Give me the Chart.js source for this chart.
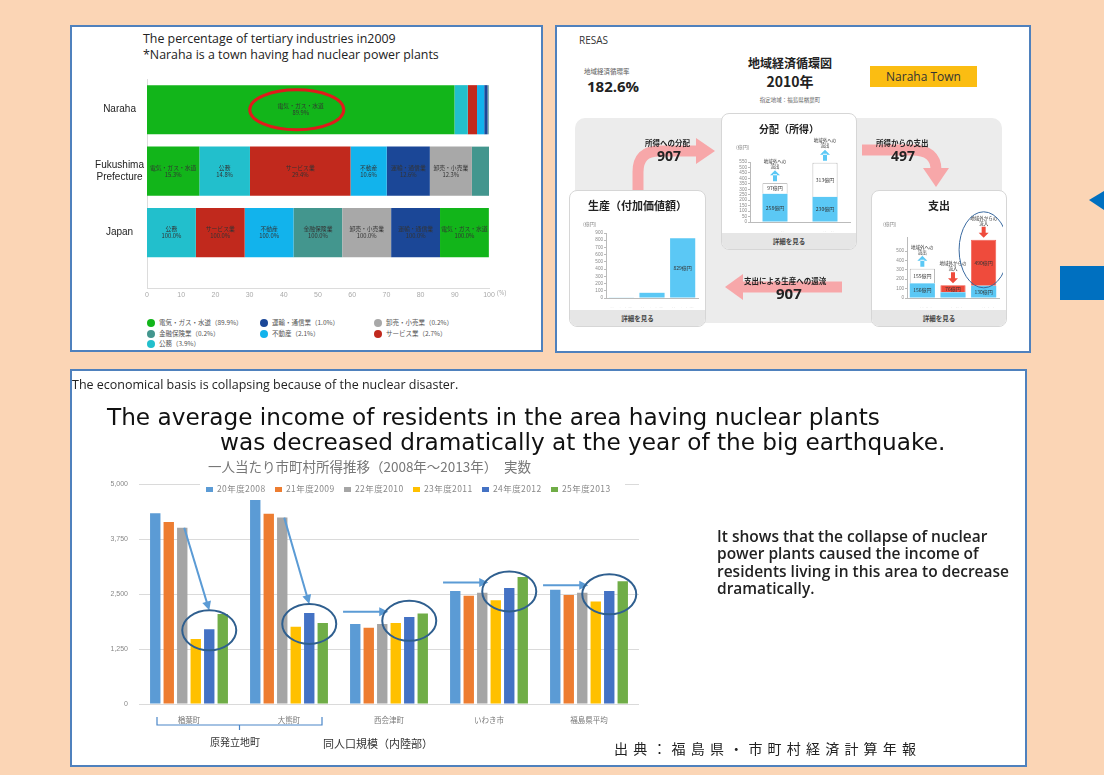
<!DOCTYPE html>
<html>
<head>
<meta charset="utf-8">
<script src="https://cdn.jsdelivr.net/npm/chart.js@4.4.1/dist/chart.umd.min.js"></script>
<style>
html, body { margin: 0; padding: 0; }
body { width: 1104px; height: 775px; background: #fbd5b5; position: relative; overflow: hidden;
       font-family: "Open Sans", "Noto Sans CJK JP", sans-serif; color: #222; }
.a { position: absolute; white-space: nowrap; }
.jp { font-family: "Noto Sans CJK JP", sans-serif; }
.panel { position: absolute; background: #fff; border: 2px solid #4f81bd; box-sizing: border-box; }
.card { position: absolute; background: #fff; border: 1px solid #d6d6d6; border-radius: 8px; box-sizing: border-box; overflow: hidden; }
.card .ttl { position: absolute; left: 0; right: 0; text-align: center; font-weight: bold; font-family: "Noto Sans CJK JP", sans-serif; }
.card .foot { position: absolute; left: 0; right: 0; bottom: 0; height: 16px; background: #e6e6e6; text-align: center;
              font: bold 6.5px/16px "Noto Sans CJK JP", sans-serif; color: #444; }
.box { position: absolute; }
.lg { position: absolute; font: 6.5px "Noto Sans CJK JP", sans-serif; color: #555; white-space: nowrap; }
.lg i { display: inline-block; width: 8px; height: 8px; border-radius: 50%; vertical-align: -2px; margin-right: 4px; }
.ilg { position: absolute; font: 8.5px "Noto Sans CJK JP", sans-serif; color: #888; white-space: nowrap; line-height: 8px; letter-spacing: 0.4px; }
.ilg i { display: inline-block; width: 7px; height: 5px; vertical-align: 0; margin-right: 4px; }
</style>
</head>
<body>

<div class="panel" style="left:70px; top:25px; width:473px; height:327px;"></div>
<div class="panel" style="left:555px; top:25px; width:476px; height:328px;"></div>
<div class="panel" style="left:70px; top:369px; width:957px; height:398px;"></div>

<!-- top left: tertiary industries -->
<div class="a" style="left:143px; top:31px; font-size:12.4px; line-height:16px; color:#222;">The percentage of tertiary industries in2009<br>*Naraha is a town having had nuclear power plants</div>
<div class="box" style="left:80px; top:70px; width:455px; height:240px;"><canvas id="shareChart"></canvas></div>
<div id="shareLegend"></div>

<!-- top right: RESAS -->
<div class="a" style="left:579px; top:33px; font-size:10px; color:#333;">RESAS</div>
<div class="a jp" style="left:584px; top:66px; font-size:6.5px; color:#555;">地域経済循環率</div>
<div class="a" style="left:587px; top:76px; font-size:15px; font-weight:bold;">182.6%</div>
<div class="a jp" style="left:730px; width:120px; text-align:center; top:54px; font-size:12px; font-weight:bold;">地域経済循環図</div>
<div class="a jp" style="left:730px; width:120px; text-align:center; top:71px; font-size:14px; font-weight:bold;">2010年</div>
<div class="a jp" style="left:730px; width:120px; text-align:center; top:96px; font-size:5.5px; color:#666;">指定地域：福島県楢葉町</div>
<div class="a" style="left:870px; top:66px; width:107px; height:21px; background:#fbbd12; text-align:center; font-size:12px; line-height:21px; color:#333;">Naraha Town</div>
<div class="a" style="left:575px; top:118px; width:427px; height:205px; background:#ececec; border-radius:10px;"></div>

<svg class="a" style="left:0; top:0;" width="1104" height="775">
  <g fill="none" stroke="#f7a7a9" stroke-width="11">
    <path d="M638 192 L638 172 Q638 151 659 151 L698 151"/>
    <path d="M862 150 L912 150 Q936 150 936 170"/>
    <path d="M842 287 L740 287"/>
  </g>
  <g fill="#f7a7a9">
    <polygon points="696,138 696,164 715,151"/>
    <polygon points="923,168 949,168 936,187"/>
    <polygon points="743,274 743,300 725,287"/>
  </g>
  <polygon points="1089,200 1104,191 1104,210" fill="#0070c0"/>
  <rect x="1060" y="266" width="44" height="34" fill="#0070c0"/>
</svg>

<div class="a jp" style="left:645px; top:137px; font-size:7.5px; font-weight:bold;">所得への分配</div>
<div class="a" style="left:657px; top:146px; font-size:14px; font-weight:bold;">907</div>
<div class="a jp" style="left:876px; top:137px; font-size:7.5px; font-weight:bold;">所得からの支出</div>
<div class="a" style="left:891px; top:146px; font-size:14px; font-weight:bold;">497</div>
<div class="a jp" style="left:744px; top:275px; font-size:7.5px; font-weight:bold;">支出による生産への還流</div>
<div class="a" style="left:776px; top:283px; font-size:15px; font-weight:bold;">907</div>

<div class="card" style="left:721px; top:113px; width:136px; height:137px;">
  <div class="ttl" style="top:7px; font-size:10px;">分配（所得）</div>
  <div class="foot">詳細を見る</div>
</div>
<div class="card" style="left:569px; top:190px; width:137px; height:137px;">
  <div class="ttl" style="top:6px; font-size:11px;">生産（付加価値額）</div>
  <div class="foot">詳細を見る</div>
</div>
<div class="card" style="left:871px; top:190px; width:136px; height:137px;">
  <div class="ttl" style="top:6px; font-size:11px;">支出</div>
  <div class="foot">詳細を見る</div>
</div>
<div class="a jp" style="left:736px; top:143px; font-size:5px; color:#888;">(億円)</div>
<div class="a jp" style="left:583px; top:220px; font-size:5px; color:#888;">(億円)</div>
<div class="a jp" style="left:883px; top:220px; font-size:5px; color:#888;">(億円)</div>
<div class="box" style="left:722px; top:132px; width:134px; height:100px;"><canvas id="distChart"></canvas></div>
<div class="box" style="left:572px; top:226px; width:130px; height:82px;"><canvas id="prodChart"></canvas></div>
<div class="box" style="left:875px; top:210px; width:128px; height:98px;"><canvas id="spendChart"></canvas></div>

<!-- bottom: income per person -->
<div class="a" style="left:72px; top:376px; font-size:12.5px; color:#222;">The economical basis is collapsing because of the nuclear disaster.</div>
<div class="a" style="left:107px; top:404px; font-family:'DejaVu Sans'; font-size:23.2px; line-height:26px; color:#111;">The average income of residents in the area having nuclear plants</div>
<div class="a" style="left:220px; top:429px; font-family:'DejaVu Sans'; font-size:23.2px; line-height:26px; color:#111;">was decreased dramatically at the year of the big earthquake.</div>
<div class="box" style="left:100px; top:455px; width:539px; height:285px;"><canvas id="incomeChart"></canvas></div>
<div id="incomeLegend" class="a" style="left:200px; top:483px; width:425px; height:10px; background:#fff;"></div>
<div class="a jp" style="left:210px; top:734px; font-size:10px; color:#333;">原発立地町</div>
<div class="a jp" style="left:323px; top:735px; font-size:11px; color:#333;">同人口規模（内陸部）</div>
<div class="a" style="left:717px; top:528px; font-size:15.5px; line-height:17.3px; font-weight:600; color:#222;">It shows that the collapse of nuclear<br>power plants caused the income of<br>residents living in this area to decrease<br>dramatically.</div>
<div class="a jp" style="left:614px; top:738px; font-size:14px; letter-spacing:5.2px; color:#222;">出典：福島県・市町村経済計算年報</div>

<script>
const JP = '"Noto Sans CJK JP", sans-serif';

// ---- tertiary industries, 2009 (% of output) ----
const industryNames = ['電気・ガス・水道', '公務', 'サービス業', '不動産', '運輸・通信業', '卸売・小売業', '金融保険業'];
const regionNames = ['Naraha', ['Fukushima', 'Prefecture'], 'Japan'];
const narahaShare = [89.9, 3.9, 2.7, 2.1, 1.0, 0.2, 0.2];
const fukushimaShare = [15.3, 14.8, 29.4, 10.6, 12.6, 12.3, 5.0];
const japanShare = [14.28, 14.28, 14.28, 14.28, 14.28, 14.28, 14.28];
const japanIndex = [100.0, 100.0, 100.0, 100.0, 100.0, 100.0, 100.0];
const narahaOrder = [0, 1, 2, 3, 4, 5, 6];
const fukushimaOrder = [0, 1, 2, 3, 4, 5, 6];
const japanOrder = [1, 2, 3, 6, 5, 4, 0];
const shareTicks = [0, 10, 20, 30, 40, 50, 60, 70, 80, 90, 100];

// ---- RESAS circulation, 2010 (100 million yen) ----
const distCats = ['雇用者所得', 'その他所得'];
const distInside = [258, 230];
const distOutflow = [97, 313];
const prodCats = ['第1次産業', '第2次産業', '第3次産業'];
const prodValues = [5, 72, 829];
const spendCats = ['民間消費額', '民間投資額', 'その他支出'];
const spendInside = [156, 61, 130];
const spendFlow = [155, 76, 490];

// ---- income per person (thousand yen) ----
const incomeTowns = ['楢葉町', '大熊町', '西会津町', 'いわき市', '福島県平均'];
const incomeYears = ['20年度2008', '21年度2009', '22年度2010', '23年度2011', '24年度2012', '25年度2013'];
const income2008 = [4340, 4640, 1820, 2570, 2600];
const income2009 = [4140, 4330, 1735, 2460, 2480];
const income2010 = [4010, 4240, 1820, 2530, 2530];
const income2011 = [1480, 1760, 1840, 2360, 2330];
const income2012 = [1700, 2070, 1980, 2640, 2570];
const income2013 = [2050, 1840, 2060, 2890, 2790];
const incomeTicks = [0, 1250, 2500, 3750, 5000];

const industryColors = ['#12b51a', '#22bfcc', '#c1291d', '#12b3ec', '#1b4797', '#a8a8a8', '#43968e'];
const incomeColors = ['#5b9bd5', '#ed7d31', '#a5a5a5', '#ffc000', '#4472c4', '#70ad47'];

// --- top left chart
const shareRows = [narahaShare, fukushimaShare, japanShare];
const shareLabelRows = [narahaShare, fukushimaShare, japanIndex];
const rowOrders = [narahaOrder, fukushimaOrder, japanOrder];

const shareSets = industryNames.map((name, k) => ({
  label: name,
  data: shareRows.map((row, r) => {
    const order = rowOrders[r];
    let start = 0;
    for (let j = 0; j < order.indexOf(k); j++) start += row[order[j]];
    return { x: [start, start + row[k]], y: r };
  }),
  backgroundColor: industryColors[k],
  grouped: false,
  categoryPercentage: 1,
  barPercentage: 0.8
}));

const shareMarks = {
  id: 'shareMarks',
  afterDatasetsDraw(chart) {
    const ctx = chart.ctx;
    ctx.save();
    ctx.textAlign = 'center';
    ctx.textBaseline = 'middle';
    ctx.fillStyle = '#333';
    ctx.font = '5.8px ' + JP;
    chart.data.datasets.forEach((ds, k) => {
      chart.getDatasetMeta(k).data.forEach((bar, r) => {
        const w = Math.abs(bar.x - bar.base);
        if (w < 25) return;
        const cx = (bar.x + bar.base) / 2;
        ctx.fillText(industryNames[k], cx, bar.y - 3.5);
        ctx.fillText(shareLabelRows[r][k].toFixed(1) + '%', cx, bar.y + 3.5);
      });
    });
    // red ring around Naraha's leading industry
    const lead = chart.getDatasetMeta(0).data[0];
    ctx.strokeStyle = '#e01b1b';
    ctx.lineWidth = 3;
    ctx.beginPath();
    ctx.ellipse((lead.x + lead.base) / 2 - 4, lead.y, 47, 20, 0, 0, Math.PI * 2);
    ctx.stroke();
    const xs = chart.scales.x;
    ctx.fillStyle = '#aaa';
    ctx.font = '6.5px "Open Sans"';
    ctx.textAlign = 'left';
    ctx.fillText('(%)', xs.right + 8, xs.top + 5);
    ctx.restore();
  }
};

new Chart(document.getElementById('shareChart'), {
  type: 'bar',
  data: { datasets: shareSets },
  options: {
    indexAxis: 'y',
    responsive: true,
    maintainAspectRatio: false,
    animation: false,
    layout: { padding: { top: 8, right: 46 } },
    plugins: { legend: { display: false }, tooltip: { enabled: false } },
    scales: {
      x: {
        type: 'linear', min: 0, max: 100, offset: false,
        afterBuildTicks: s => { s.ticks = shareTicks.map(v => ({ value: v })); },
        grid: { display: false, drawTicks: false },
        border: { color: '#dcdcdc' },
        ticks: { font: { size: 7 }, color: '#aaa', padding: 3 },
        afterFit: s => { s.height = 22; }
      },
      y: {
        type: 'linear', reverse: true, min: -0.5, max: 2.9, offset: false,
        afterBuildTicks: s => { s.ticks = regionNames.map((n, i) => ({ value: i })); },
        grid: { display: false, drawTicks: false },
        border: { color: '#dcdcdc' },
        ticks: { font: { size: 10 }, color: '#222', crossAlign: 'center', callback: v => regionNames[v] },
        afterFit: s => { s.width = 67; }
      }
    }
  },
  plugins: [shareMarks]
});

const legendOrder = [0, 4, 5, 6, 3, 2, 1];
const legendCols = [147, 260, 374];
document.getElementById('shareLegend').innerHTML = legendOrder.map((k, i) =>
  `<div class="lg" style="left:${legendCols[i % 3]}px; top:${317 + Math.floor(i / 3) * 10.5}px;">` +
  `<i style="background:${industryColors[k]}"></i>${industryNames[k]}（${narahaShare[k].toFixed(1)}%）</div>`
).join('');

// --- RESAS mini charts
const resasBlue = '#5bc8f5';
const resasRed = '#ef4b3c';

const miniMarks = {
  id: 'miniMarks',
  afterDatasetsDraw(chart, args, opts) {
    const ctx = chart.ctx;
    ctx.save();
    ctx.textAlign = 'center';
    ctx.textBaseline = 'middle';
    chart.data.datasets.forEach((ds, k) => {
      chart.getDatasetMeta(k).data.forEach((bar, i) => {
        if (bar.base - bar.y < 6.5) return;
        ctx.font = '5px ' + JP;
        ctx.fillStyle = '#333';
        ctx.fillText(ds.data[i] + '億円', bar.x, (bar.y + bar.base) / 2);
      });
    });
    const last = chart.getDatasetMeta(chart.data.datasets.length - 1).data;
    (opts.notes || []).forEach((lines, i) => {
      const top = last[i].y;
      const x = last[i].x;
      ctx.font = '4.5px ' + JP;
      ctx.fillStyle = '#333';
      ctx.fillText(lines[0], x, top - 22);
      ctx.fillText(lines[1], x, top - 17);
      const up = opts.dirs[i] === 'out';
      ctx.fillStyle = up ? resasBlue : resasRed;
      const y0 = top - 13, y1 = top - 2;
      ctx.beginPath();
      if (up) {
        ctx.rect(x - 2, y0 + 4, 4, y1 - y0 - 4);
        ctx.moveTo(x - 5, y0 + 5); ctx.lineTo(x + 5, y0 + 5); ctx.lineTo(x, y0);
      } else {
        ctx.rect(x - 2, y0, 4, y1 - y0 - 4);
        ctx.moveTo(x - 5, y1 - 5); ctx.lineTo(x + 5, y1 - 5); ctx.lineTo(x, y1);
      }
      ctx.fill();
    });
    if (opts.ring !== undefined) {
      const b = last[opts.ring];
      const top = b.y - 26, bottom = b.base;
      ctx.strokeStyle = '#3a6aa0';
      ctx.lineWidth = 1;
      ctx.beginPath();
      ctx.ellipse(b.x, (top + bottom) / 2, b.width / 2 + 12, (bottom - top) / 2 + 2, 0, 0, Math.PI * 2);
      ctx.stroke();
    }
    ctx.restore();
  }
};

function miniChart(id, cats, sets, yMax, yStep, yTop, yWidth, pad, marks) {
  return new Chart(document.getElementById(id), {
    type: 'bar',
    data: { labels: cats, datasets: sets },
    options: {
      responsive: true,
      maintainAspectRatio: false,
      animation: false,
      layout: { padding: pad },
      plugins: { legend: { display: false }, tooltip: { enabled: false }, miniMarks: marks },
      scales: {
        x: {
          stacked: true,
          grid: { display: false },
          border: { color: '#bbb' },
          ticks: { font: { size: 5, family: JP }, color: '#888', padding: 1, maxRotation: 0, autoSkip: false },
          afterFit: s => { s.height = 10; }
        },
        y: {
          stacked: true, min: 0, max: yMax,
          afterBuildTicks: s => { s.ticks = s.ticks.filter(t => t.value <= yTop); },
          grid: { drawOnChartArea: false, tickLength: 2, color: '#bbb' },
          border: { color: '#bbb' },
          ticks: { stepSize: yStep, autoSkip: false, font: { size: 4.6 }, color: '#888', padding: 1 },
          afterFit: s => { s.width = yWidth; }
        }
      }
    },
    plugins: [miniMarks]
  });
}

miniChart('distChart', distCats, [
  { data: distInside, backgroundColor: resasBlue, categoryPercentage: 1, barPercentage: 0.5 },
  { data: distOutflow, backgroundColor: '#ffffff', borderColor: '#999', borderWidth: 0.8, categoryPercentage: 1, barPercentage: 0.5 }
], 550, 50, 550, 28, { top: 30, right: 6 },
  { notes: [['地域外への', '流出'], ['地域外への', '流出']], dirs: ['out', 'out'] });

miniChart('prodChart', prodCats, [
  { data: prodValues, backgroundColor: resasBlue, categoryPercentage: 1, barPercentage: 0.82 }
], 900, 100, 900, 34, { top: 7, right: 4 }, {});

miniChart('spendChart', spendCats, [
  { data: spendInside, backgroundColor: resasBlue, categoryPercentage: 1, barPercentage: 0.82 },
  { data: spendFlow, backgroundColor: ['#ffffff', resasRed, resasRed], borderColor: ['#999', resasRed, resasRed],
    borderWidth: 0.8, categoryPercentage: 1, barPercentage: 0.82 }
], 650, 100, 600, 32, { top: 27, right: 4 },
  { notes: [['地域外への', '流出'], ['地域外からの', '流入'], ['地域外からの', '流入']], dirs: ['out', 'in', 'in'], ring: 2 });

// --- income chart
const incomeSeries = [income2008, income2009, income2010, income2011, income2012, income2013];

document.getElementById('incomeLegend').innerHTML = incomeYears.map((y, i) =>
  `<div class="ilg" style="left:${6 + i * 69}px; top:1px;"><i style="background:${incomeColors[i]}"></i>${y}</div>`
).join('');

function arrow(ctx, x0, y0, x1, y1) {
  const a = Math.atan2(y1 - y0, x1 - x0);
  ctx.beginPath();
  ctx.moveTo(x0, y0);
  ctx.lineTo(x1 - 7 * Math.cos(a), y1 - 7 * Math.sin(a));
  ctx.stroke();
  ctx.beginPath();
  ctx.moveTo(x1, y1);
  ctx.lineTo(x1 - 9 * Math.cos(a) + 4.5 * Math.sin(a), y1 - 9 * Math.sin(a) - 4.5 * Math.cos(a));
  ctx.lineTo(x1 - 9 * Math.cos(a) - 4.5 * Math.sin(a), y1 - 9 * Math.sin(a) + 4.5 * Math.cos(a));
  ctx.closePath();
  ctx.fill();
}

const incomeMarks = {
  id: 'incomeMarks',
  afterDatasetsDraw(chart) {
    const ctx = chart.ctx;
    const metas = incomeSeries.map((s, i) => chart.getDatasetMeta(i));
    ctx.save();
    incomeTowns.forEach((t, c) => {
      const late = [3, 4, 5].map(k => metas[k].data[c]);
      const cx = (late[0].x + late[2].x) / 2;
      const cy = late.reduce((s, b) => s + b.y, 0) / 3 + 3;
      const rx = 27, ry = 20;
      ctx.strokeStyle = incomeColors[0];
      ctx.fillStyle = incomeColors[0];
      ctx.lineWidth = 2;
      if (c < 2) {
        const g = metas[2].data[c];
        arrow(ctx, g.x + 2, g.y, cx, cy - ry);
      } else {
        const f = metas[0].data[c];
        arrow(ctx, f.x - f.width / 2 - 7, cy - 9, cx - 21, cy - 9);
      }
      ctx.strokeStyle = '#2f5f8f';
      ctx.beginPath();
      ctx.ellipse(cx, cy, rx, ry, 0, 0, Math.PI * 2);
      ctx.stroke();
    });
    // bracket under the two plant-hosting towns
    const xs = chart.scales.x;
    const l = xs.getPixelForValue(0) - 32, r = xs.getPixelForValue(1) + 33, m = (l + r) / 2;
    const yb = xs.top + 21;
    ctx.strokeStyle = '#4a86c8';
    ctx.lineWidth = 1.2;
    ctx.beginPath();
    ctx.moveTo(l, yb - 8); ctx.lineTo(l, yb); ctx.lineTo(r, yb); ctx.lineTo(r, yb - 8);
    ctx.moveTo(m, yb); ctx.lineTo(m, yb + 5);
    ctx.stroke();
    ctx.restore();
  }
};

new Chart(document.getElementById('incomeChart'), {
  type: 'bar',
  data: {
    labels: incomeTowns,
    datasets: incomeSeries.map((vals, i) => ({
      label: incomeYears[i],
      data: vals,
      backgroundColor: incomeColors[i],
      categoryPercentage: 0.81,
      barPercentage: 0.77
    }))
  },
  options: {
    responsive: true,
    maintainAspectRatio: false,
    animation: false,
    plugins: {
      title: {
        display: true,
        text: '一人当たり市町村所得推移（2008年～2013年）　実数',
        font: { size: 13.5, family: JP, weight: 'normal' },
        color: '#777',
        padding: { top: 4, bottom: 9 }
      },
      legend: { display: false },
      tooltip: { enabled: false }
    },
    scales: {
      x: {
        grid: { display: false },
        border: { display: false },
        ticks: { font: { size: 7.5, family: JP }, color: '#777', padding: 4 },
        afterFit: s => { s.height = 36; }
      },
      y: {
        min: 0, max: 5000,
        afterBuildTicks: s => { s.ticks = incomeTicks.map(v => ({ value: v })); },
        grid: { color: '#dadada', drawTicks: false },
        border: { display: false },
        ticks: { font: { size: 7 }, color: '#888', padding: 11, callback: v => v.toLocaleString('en-US') },
        afterFit: s => { s.width = 39; }
      }
    }
  },
  plugins: [incomeMarks]
});
</script>
</body>
</html>
